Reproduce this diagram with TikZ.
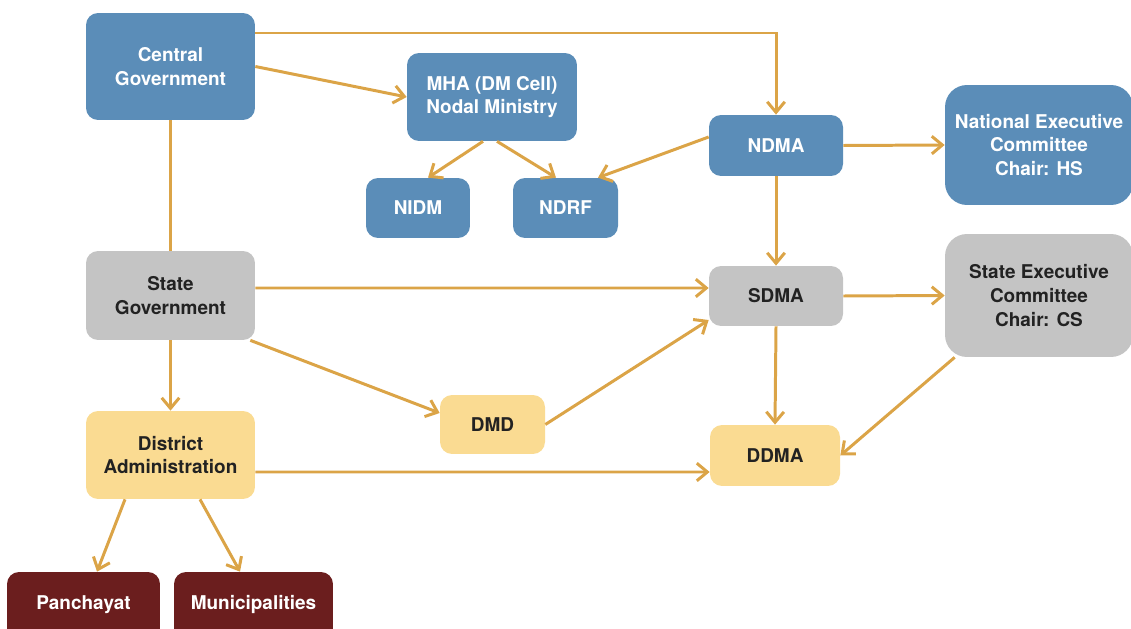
\documentclass[tikz,border=0pt]{standalone}
\usepackage{fontspec}
\setmainfont{TeX Gyre Heros}
\usetikzlibrary{arrows.meta}
\definecolor{govblue}{HTML}{5B8DB8}
\definecolor{stategrey}{HTML}{C4C4C4}
\definecolor{distyellow}{HTML}{FADB92}
\definecolor{localred}{HTML}{6B1E1E}
\definecolor{linkgold}{HTML}{DBA447}
\definecolor{darktext}{HTML}{222222}

\tikzset{
  box/.style={rounded corners=0.24cm, align=center, inner sep=0pt,
    font=\bfseries\fontsize{10.8}{13.6}\selectfont},
  blue/.style={box, fill=govblue, text=white},
  grey/.style={box, fill=stategrey, text=darktext},
  yellow/.style={box, fill=distyellow, text=darktext},
  local/.style={box, fill=localred, text=white},
  link/.style={draw=linkgold, line width=1.7pt,
    -{Straight Barb[length=6pt,width=10pt,line width=1.7pt]}},
  plain/.style={draw=linkgold, line width=1.7pt}
}

\begin{document}
\begin{tikzpicture}[x=0.02cm, y=-0.02cm]
\useasboundingbox (0,0) rectangle (1131,628);

\node[blue, minimum width=3.38cm, minimum height=2.14cm]	(central)	at (170.5,66.5)	{Central\\Government};
\node[blue, minimum width=3.40cm, minimum height=1.76cm]	(mha)		at (492,97)	{MHA (DM Cell)\\Nodal Ministry};
\node[blue, minimum width=2.08cm, minimum height=1.20cm]	(nidm)		at (418,208)	{NIDM};
\node[blue, minimum width=2.10cm, minimum height=1.20cm]	(ndrf)		at (565.5,208)	{NDRF};
\node[blue, minimum width=2.68cm, minimum height=1.22cm]	(ndma)		at (776,145.5)	{NDMA};
\node[blue, rounded corners=0.44cm, minimum width=3.76cm, minimum height=2.40cm]	(nec)	at (1039,145)	{National Executive\\Committee\\Chair: HS};

\node[grey, minimum width=3.38cm, minimum height=1.78cm]	(stategov)	at (170.5,295.5)	{State\\Government};
\node[grey, minimum width=2.68cm, minimum height=1.20cm]	(sdma)		at (776,296)	{SDMA};
\node[grey, rounded corners=0.44cm, minimum width=3.76cm, minimum height=2.46cm]	(sec)	at (1039,295.5)	{State Executive\\Committee\\Chair: CS};

\node[yellow, minimum width=3.38cm, minimum height=1.76cm]	(district)	at (170.5,455)	{District\\Administration};
\node[yellow, minimum width=2.10cm, minimum height=1.18cm]	(dmd)		at (492.5,424.5)	{DMD};
\node[yellow, minimum width=2.60cm, minimum height=1.22cm]	(ddma)		at (775,455.5)	{DDMA};

% bottom row runs off the page edge
\node[local, minimum width=3.06cm, minimum height=1.40cm]	(panchayat)	at (83.5,607)	{\raisebox{0.18cm}{Panchayat}};
\node[local, minimum width=3.18cm, minimum height=1.40cm]	(muni)		at (253.5,607)	{\raisebox{0.18cm}{Municipalities}};

% central level
\draw[link] ([yshift=0.67cm]central.east) -| (ndma.north);
\draw[link] (central.east) -- (mha.west);
\draw[plain] (central.south) -- (stategov.north);
\draw[link] ([xshift=-0.18cm]mha.south) -- ([xshift=0.2cm]nidm.north);
\draw[link] ([xshift=0.1cm]mha.south) -- ([xshift=-0.19cm]ndrf.north);
\draw[link] ([yshift=0.17cm]ndma.west) -- ([xshift=0.65cm]ndrf.north);
\draw[link] (ndma.east) -- (nec.west);
\draw[link] (ndma.south) -- (sdma.north);

% state level
\draw[link] ([yshift=0.15cm]stategov.east) -- ([yshift=0.16cm]sdma.west);
\draw[link] ([xshift=-0.1cm]stategov.south east) -- ([yshift=0.23cm]dmd.west);
\draw[link] (stategov.south) -- (district.north);
\draw[link] (dmd.east) -- ([yshift=-0.48cm]sdma.west);
\draw[link] (sdma.east) -- (sec.west);
\draw[link] (sdma.south) -- (ddma.north);
\draw[link] ([xshift=0.2cm]sec.south west) -- (ddma.east);

% district level
\draw[link] ([yshift=-0.34cm]district.east) -- ([yshift=-0.33cm]ddma.west);
\draw[link] ([xshift=-0.91cm]district.south) -- ([xshift=0.27cm]panchayat.north);
\draw[link] ([xshift=0.59cm]district.south) -- ([xshift=-0.27cm]muni.north);
\end{tikzpicture}
\end{document}
